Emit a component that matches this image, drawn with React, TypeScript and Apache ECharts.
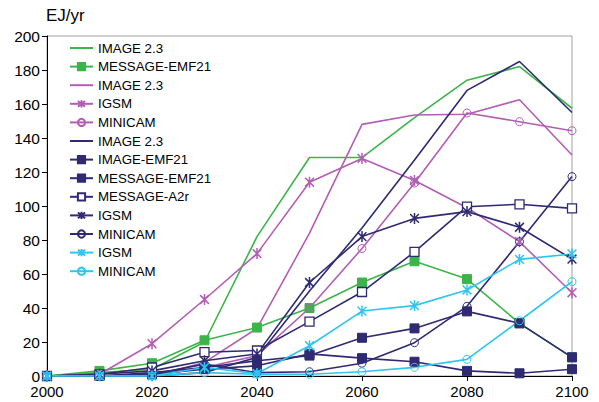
import React, { useEffect, useRef } from "react";
import * as echarts from "echarts";

const years = [2000, 2010, 2020, 2030, 2040, 2050, 2060, 2070, 2080, 2090, 2100];

const greenImage = [0, 2, 4, 20, 82, 128.5, 128.5, 152, 174, 182, 157.5];
const greenMessageEmf = [0, 3, 7.5, 21, 28.5, 40, 55, 67.5, 57, 31, 11];
const magentaImage = [0, 0, 0, 8, 28, 84, 148, 153.5, 154, 162.5, 130];
const magentaIgsm = [0, 1, 19, 45, 72, 114, 128, 115, 99, 79, 49];
const magentaMinicam = [0, 0, 0, 5, 12, 40, 75, 113.5, 154.7, 149.6, 144.3];
const navyImage = [0, 0, 0, 2, 11, 50, 87, 127, 168, 185, 155];
const navyImageEmf = [0, 0, 2, 5, 9, 12, 22.5, 28, 38, 31, 11];
const navyMessageEmf = [0, 0, 1, 4, 6, 13, 10.5, 8.4, 3, 1.6, 4];
const navyMessageA2r = [0, 1, 5, 14, 15, 32, 49.4, 73, 99.6, 101, 98.6];
const navyIgsm = [0, 1, 3, 9, 13, 55, 82, 92.7, 96.7, 87.5, 68.8];
const navyMinicam = [0, 0, 1, 7, 2, 2.5, 7.5, 19.6, 41, 79, 117.3];
const cyanIgsm = [0, 0, 0, 5, 1.5, 17.8, 38.2, 41.4, 50.6, 68.6, 71.8];
const cyanMinicam = [0, 0, 0, 2, 1, 1, 2.5, 5.1, 9.8, 32.5, 55.5];

const GREEN = "#3bb54a";
const MAGENTA = "#b25eb4";
const NAVY = "#2f2a72";
const CYAN = "#2ec5f0";

const STAR = "path://M1,1L9,9M9,1L1,9M5,0L5,10";

type Spec = { name: string; color: string; data: number[]; marker: string };

const specs: Spec[] = [
  { name: "IMAGE 2.3", color: GREEN, data: greenImage, marker: "none" },
  { name: "MESSAGE-EMF21", color: GREEN, data: greenMessageEmf, marker: "square" },
  { name: "IMAGE 2.3", color: MAGENTA, data: magentaImage, marker: "none" },
  { name: "IGSM", color: MAGENTA, data: magentaIgsm, marker: "star" },
  { name: "MINICAM", color: MAGENTA, data: magentaMinicam, marker: "circle" },
  { name: "IMAGE 2.3", color: NAVY, data: navyImage, marker: "none" },
  { name: "IMAGE-EMF21", color: NAVY, data: navyImageEmf, marker: "square" },
  { name: "MESSAGE-EMF21", color: NAVY, data: navyMessageEmf, marker: "square" },
  { name: "MESSAGE-A2r", color: NAVY, data: navyMessageA2r, marker: "emptySquare" },
  { name: "IGSM", color: NAVY, data: navyIgsm, marker: "star" },
  { name: "MINICAM", color: NAVY, data: navyMinicam, marker: "circle" },
  { name: "IGSM", color: CYAN, data: cyanIgsm, marker: "star" },
  { name: "MINICAM", color: CYAN, data: cyanMinicam, marker: "circle" },
];

export default function App() {
  const ref = useRef<HTMLDivElement>(null);
  useEffect(() => {
    if (!ref.current) return;
    const chart = echarts.init(ref.current, null, { renderer: "svg" });
    const uniq = (n: string, i: number) => n + "\u200b".repeat(i);
    const series = specs.map((s, i) => {
      let symbol = "none";
      let symbolSize: number = 0;
      let itemStyle: any = { color: s.color };
      if (s.marker === "square") {
        symbol = "rect";
        symbolSize = 9;
        itemStyle = { color: s.color, borderColor: s.color, borderWidth: 1 };
      } else if (s.marker === "emptySquare") {
        symbol = "rect";
        symbolSize = 9;
        itemStyle = { color: "#fff", borderColor: s.color, borderWidth: 1.3 };
      } else if (s.marker === "circle") {
        symbol = "circle";
        symbolSize = 8;
        itemStyle = { color: "rgba(255,255,255,0)", borderColor: s.color, borderWidth: 1 };
      } else if (s.marker === "star") {
        symbol = STAR;
        symbolSize = 11;
        itemStyle = { color: s.color, borderColor: s.color, borderWidth: 1.5 };
      }
      return {
        type: "line",
        name: uniq(s.name, i),
        data: years.map((y, k) => [y, s.data[k]]),
        symbol,
        symbolSize,
        showSymbol: symbol !== "none",
        symbolKeepAspect: true,
        lineStyle: { color: s.color, width: 1.6 },
        itemStyle,
        z: 2,
      };
    });
    chart.setOption({
      animation: false,
      title: {
        text: "EJ/yr",
        left: 46,
        top: 7,
        padding: 0,
        textStyle: { fontFamily: "Liberation Sans", fontSize: 17, fontWeight: "normal", color: "#000" },
      },
      grid: {
        left: 47,
        right: 27,
        top: 36,
        bottom: 26,
        show: true,
        borderColor: "#a0a0a0",
        borderWidth: 1,
      },
      legend: {
        orient: "vertical",
        left: 69,
        top: 41,
        padding: 0,
        itemWidth: 23,
        itemHeight: 9,
        itemGap: 4.6,
        data: specs.map((s, i) =>
          s.marker === "none"
            ? {
                name: uniq(s.name, i),
                itemStyle: { color: "rgba(0,0,0,0)", borderColor: "rgba(0,0,0,0)", borderWidth: 0 },
              }
            : { name: uniq(s.name, i) }
        ),
        formatter: (n: string) => n.replace(/\u200b/g, ""),
        textStyle: { fontFamily: "Liberation Sans", fontSize: 13.3, lineHeight: 14, color: "#000" },
      },
      xAxis: {
        type: "value",
        min: 2000,
        max: 2100,
        interval: 20,
        splitLine: { show: false },
        axisLine: { lineStyle: { color: "#000", width: 1 } },
        axisTick: { show: true, length: 5, inside: false, lineStyle: { color: "#000" } },
        axisLabel: {
          color: "#000",
          fontFamily: "Liberation Sans",
          fontSize: 15,
          margin: 8,
          formatter: (v: number) => String(v),
        },
      },
      yAxis: {
        type: "value",
        min: 0,
        max: 200,
        interval: 20,
        splitLine: { show: false },
        axisLine: { show: true, lineStyle: { color: "#000", width: 1 } },
        axisTick: { show: true, length: 5, inside: false, lineStyle: { color: "#000" } },
        axisLabel: { color: "#000", fontFamily: "Liberation Sans", fontSize: 15.5, margin: 7 },
      },
      series,
    });
    return () => chart.dispose();
  }, []);
  return (
    <div
      ref={ref}
      style={{ position: "absolute", left: 0, top: 0, width: 599, height: 402, background: "#fff" }}
    />
  );
}
